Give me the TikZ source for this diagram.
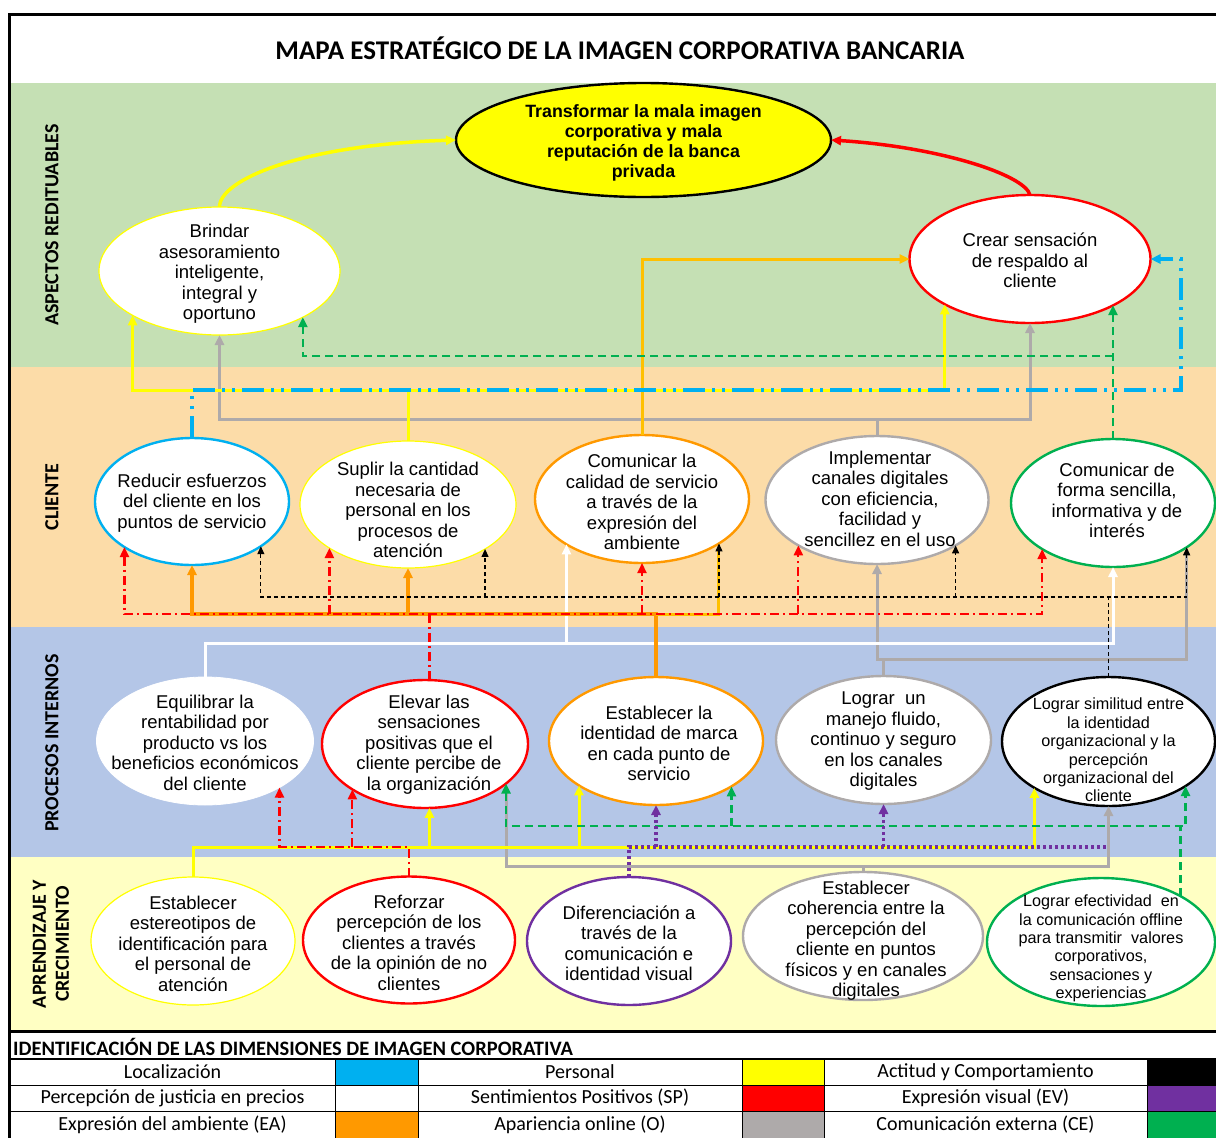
\documentclass[tikz,border=0pt]{standalone}
\usepackage{fontspec}
\usetikzlibrary{arrows.meta,shapes.geometric}
\newfontfamily\arialf{Liberation Sans}
\newfontfamily\calf{Carlito}

\definecolor{bandG}{RGB}{197,224,180}
\definecolor{bandO}{RGB}{252,220,168}
\definecolor{bandB}{RGB}{180,198,231}
\definecolor{bandY}{RGB}{255,255,195}
\definecolor{cBlue}{RGB}{0,176,240}
\definecolor{cYel}{RGB}{255,255,0}
\definecolor{cRed}{RGB}{255,0,0}
\definecolor{cOra}{RGB}{255,153,0}
\definecolor{cGold}{RGB}{255,192,0}
\definecolor{cGray}{RGB}{174,170,170}
\definecolor{cPur}{RGB}{112,48,160}
\definecolor{cGrn}{RGB}{0,176,80}

\tikzset{
  obj/.style={ellipse, fill=white, inner sep=0pt, outer sep=0pt, line width=2.4pt},
  txt/.style={font=\arialf\fontsize{18.5}{20.5}\selectfont, align=center, inner sep=0pt, yshift=-1.5pt},
  txts/.style={font=\arialf\fontsize{16.2}{18.4}\selectfont, align=center, inner sep=0pt, yshift=-1.5pt},
  band/.style={rotate=90, font=\calf\bfseries\fontsize{20}{23}\selectfont, align=center},
  leg/.style={font=\calf\fontsize{20}{22}\selectfont, inner sep=0pt},
  arw/.style={-{Triangle[length=10pt,width=9pt]}},
  arw2/.style={{Triangle[length=10pt,width=9pt]}-{Triangle[length=10pt,width=9pt]}},
  arwS/.style={{Triangle[length=10pt,width=9pt]}-},
  karw/.style={-{Triangle[length=8pt,width=7pt]}},
  karw2/.style={{Triangle[length=8pt,width=7pt]}-{Triangle[length=8pt,width=7pt]}},
  lnY/.style={draw=cYel, line width=3pt},
  lnGy/.style={draw=cGray, line width=3pt},
  lnO/.style={draw=cOra, line width=3.6pt},
  lnGd/.style={draw=cGold, line width=3pt},
  lnW/.style={draw=white, line width=3pt},
  lnR/.style={draw=cRed, line width=2.2pt, dash pattern=on 9pt off 4pt on 2pt off 4pt},
  lnB/.style={draw=cBlue, line width=3.2pt, dash pattern=on 22pt off 7pt on 3pt off 7pt on 3pt off 7pt},
  lnK/.style={draw=black, line width=1.2pt, dash pattern=on 4pt off 3pt},
  lnG/.style={draw=cGrn, line width=2.5pt, dash pattern=on 8pt off 5pt},
  lnP/.style={draw=cPur, line width=3.5pt, dash pattern=on 3pt off 3pt},
}

\begin{document}
\begin{tikzpicture}[x=1pt,y=-1pt]
\useasboundingbox (0,0) rectangle (1216,1138);
\fill[white] (0,0) rectangle (1216,1138);

% perspective bands
\fill[bandG] (11,83) rectangle (1216,367);
\fill[bandO] (11,367) rectangle (1216,627);
\fill[bandB] (11,627) rectangle (1216,857);
\fill[bandY] (11,857) rectangle (1216,1030);

% frame
\draw[line width=3pt] (9.5,1140) -- (9.5,14.5) -- (1220,14.5);
\draw[line width=3.5pt] (9.5,1031.5) -- (1220,1031.5);

% title and band labels
\node[font=\calf\bfseries\fontsize{27}{31}\selectfont] (title) at (620,48) {MAPA ESTRATÉGICO DE LA IMAGEN CORPORATIVA BANCARIA};
\node[band] (lab-ar) at (52,225) {ASPECTOS REDITUABLES};
\node[band] (lab-cl) at (52,497) {CLIENTE};
\node[band] (lab-pi) at (52,743) {PROCESOS INTERNOS};
\node[band] (lab-ac) at (51,944) {APRENDIZAJE Y\\CRECIMIENTO};

% objectives (outlines)
\node[obj, draw=black, fill=cYel, minimum width=375pt, minimum height=114pt] (goal) at (643.5,140) {};
\node[obj, draw=cYel, line width=1.2pt, minimum width=241pt, minimum height=128pt] (brindar) at (219.5,271) {};
\node[obj, draw=cRed, minimum width=241pt, minimum height=128pt] (crear) at (1030,259) {};

\node[obj, draw=cBlue, minimum width=194pt, minimum height=127pt] (reducir) at (192,501.5) {};
\node[obj, draw=cYel, line width=1.2pt, minimum width=216pt, minimum height=127pt] (suplir) at (408,504.5) {};
\node[obj, draw=cOra, minimum width=214pt, minimum height=128pt] (comcal) at (642,499) {};
\node[obj, draw=cGray, minimum width=223pt, minimum height=128pt] (implem) at (877,500) {};
\node[obj, draw=cGrn, minimum width=204pt, minimum height=128pt] (comforma) at (1113,503) {};

\node[obj, draw=white, line width=0.8pt, minimum width=217pt, minimum height=128pt] (equil) at (205,741) {};
\node[obj, draw=cRed, minimum width=206pt, minimum height=128pt] (elevar) at (425,744) {};
\node[obj, draw=cOra, minimum width=214pt, minimum height=128pt] (estid) at (656,741) {};
\node[obj, draw=cGray, minimum width=215pt, minimum height=128pt] (manejo) at (883.5,740) {};
\node[obj, draw=black, minimum width=213pt, minimum height=129pt] (simil) at (1108.5,741.5) {};

\node[obj, draw=cYel, line width=1.2pt, minimum width=204pt, minimum height=128pt] (estereo) at (193,941) {};
\node[obj, draw=cRed, minimum width=212pt, minimum height=127pt] (reforzar) at (409,940) {};
\node[obj, draw=cPur, minimum width=204pt, minimum height=128pt] (difer) at (629,941) {};
\node[obj, draw=cGray, minimum width=240pt, minimum height=128pt] (coher) at (863,936) {};
\node[obj, draw=cGrn, minimum width=228pt, minimum height=128pt] (efect) at (1101,942) {};

% bus levels
\coordinate (yA) at (0,390);
\coordinate (gA) at (0,419);
\coordinate (eA) at (0,356);
\coordinate (kB) at (0,597);
\coordinate (rB) at (0,614);
\coordinate (wB) at (0,643);
\coordinate (gB) at (0,659);
\coordinate (eC) at (0,826);
\coordinate (yC) at (0,847);
\coordinate (gC) at (0,866);
\coordinate (bX) at (1181,0);

% Apariencia online (grey)
\draw[lnGy] (implem.north) -- (implem.north |- gA);
\draw[lnGy, arw2] (brindar.south) -- (brindar.south |- gA) -- (crear.south |- gA) -- (crear.south);
\draw[lnGy] (manejo.north) -- (manejo.north |- gB);
\draw[lnGy, arwS, shorten >=7pt] (implem.south) -- (implem.south |- gB) -- (comforma.329 |- gB) -- (comforma.329);
\draw[lnGy] (coher.north) -- (coher.north |- gC);
\draw[lnGy, arw, shorten <=9pt] (elevar.334) -- (elevar.334 |- gC) -- (simil.south |- gC) -- (simil.south);

% Personal (yellow)
\draw[lnY] (suplir.north) -- (suplir.north |- yA);
\draw[lnY, arw2] (brindar.207) -- (brindar.207 |- yA) -- (crear.208 |- yA) -- (crear.208);
\draw[lnY, arw] (estereo.north) |- (simil.212 |- yC) -- (simil.212);
\draw[lnY, arw] (elevar.274 |- yC) -- (elevar.274);
\draw[lnY, arw] (estid.210 |- yC) -- (estid.210);

% Percepcion de justicia en precios (white)
\draw[lnW, -{Triangle[length=10pt,width=9pt,fill=white]}] (equil.north) |- (comforma.south |- wB) -- (comforma.south);
\draw[lnW, -{Triangle[length=10pt,width=9pt,fill=white]}] (comcal.211 |- wB) -- (comcal.211);

% Expresion del ambiente (orange)
\draw[lnO, arw] (estid.north) -- (estid.north |- rB) -- (reducir.south |- rB) -- (reducir.south);
\draw[lnO, arw] (suplir.south |- rB) -- (suplir.south);
\draw[lnGd, shorten >=7pt] (estid.north |- rB) -| (comcal.330);
\draw[lnGd, arw] (comcal.north) |- (crear.west);

% Comunicacion externa (green)
\draw[lnG, arw] (comforma.north) -- (comforma.north |- crear.331);
\draw[lnG, arw] (comforma.north |- eA) -- (brindar.331 |- eA) -- (brindar.331);
\draw[lnG] (efect.30) -- (efect.30 |- eC);
\draw[lnG, arw2] (elevar.334) -- (elevar.334 |- eC) -- (simil.330 |- eC) -- (simil.330);
\draw[lnG, arw] (estid.329 |- eC) -- (estid.329);

% Actitud y comportamiento (black)
\draw[lnK] (simil.north) -- (simil.north |- kB);
\draw[lnK, karw2] (reducir.327) -- (reducir.327 |- kB) -- (comforma.329 |- kB) -- (comforma.329);
\draw[lnK, karw] (suplir.330 |- kB) -- (suplir.330);
\draw[lnK, karw] (comcal.330 |- kB) -- (comcal.330);
\draw[lnK, karw] (implem.330 |- kB) -- (implem.330);

% Sentimientos positivos (red)
\draw[lnR] (elevar.86) -- (elevar.86 |- rB);
\draw[lnR, arw2] (reducir.214) -- (reducir.214 |- rB) -- (comforma.213 |- rB) -- (comforma.213);
\draw[lnR, arw] (suplir.209 |- rB) -- (suplir.209);
\draw[lnR, arw] (comcal.south |- rB) -- (comcal.south);
\draw[lnR, arw] (implem.210 |- rB) -- (implem.210);
\draw[lnR, arw] (reforzar.north) |- (equil.328 |- yC) -- (equil.328);
\draw[lnR, arw] (elevar.212 |- yC) -- (elevar.212);

% Localizacion (blue)
\draw[lnB, arw] (reducir.north) |- (bX |- yA) |- (crear.east);

% Expresion visual (purple)
\draw[lnP] (difer.north) |- (simil.south |- yC);
\draw[lnP, arw] (estid.south |- yC) -- (estid.south);
\draw[lnP, arw] (manejo.south |- yC) -- (manejo.south);

% links to the main objective
\draw[cYel, line width=3.5pt, arw] (brindar.north) .. controls +(0,-27) and +(-156,5) .. (goal.west);
\draw[cRed, line width=3.5pt, arw] (crear.north) .. controls +(-5,-20) and +(109,7) .. (goal.east);

% objective texts
\node[txt, font=\arialf\bfseries\fontsize{17.8}{20}\selectfont, yshift=-1pt] (goal-t) at (goal) {Transformar la mala imagen\\corporativa y mala\\reputación de la banca\\privada};
\node[txt, yshift=-1.5pt] (brindar-t) at (brindar) {Brindar\\asesoramiento\\inteligente,\\integral y\\oportuno};
\node[txt] (crear-t) at (crear) {Crear sensación\\de respaldo al\\cliente};
\node[txt] (reducir-t) at (reducir) {Reducir esfuerzos\\del cliente en los\\puntos de servicio};
\node[txt, yshift=-4pt] (suplir-t) at (suplir) {Suplir la cantidad\\necesaria de\\personal en los\\procesos de\\atención};
\node[txt, yshift=-1.5pt] (comcal-t) at (comcal) {Comunicar la\\calidad de servicio\\a través de la\\expresión del\\ambiente};
\node[txt, yshift=3pt, xshift=3pt] (implem-t) at (implem) {Implementar\\canales digitales\\con eficiencia,\\facilidad y\\sencillez en el uso};
\node[txt, yshift=4pt, xshift=4pt] (comforma-t) at (comforma) {Comunicar de\\forma sencilla,\\informativa y de\\interés};
\node[txt] (equil-t) at (equil) {Equilibrar la\\rentabilidad por\\producto vs los\\beneficios económicos\\del cliente};
\node[txt, xshift=4pt, yshift=1pt] (elevar-t) at (elevar) {Elevar las\\sensaciones\\positivas que el\\cliente percibe de\\la organización};
\node[txt, yshift=-1pt, xshift=3pt] (estid-t) at (estid) {Establecer la\\identidad de marca\\en cada punto de\\servicio};
\node[txt] (manejo-t) at (manejo) {Lograr~~un\\manejo fluido,\\continuo y seguro\\en los canales\\digitales};
\node[txts, yshift=-7pt] (simil-t) at (simil) {Lograr similitud entre\\la identidad\\organizacional y la\\percepción\\organizacional del\\cliente};
\node[txt, yshift=-1pt] (estereo-t) at (estereo) {Establecer\\estereotipos de\\identificación para\\el personal de\\atención};
\node[txt, yshift=-1pt] (reforzar-t) at (reforzar) {Reforzar\\percepción de los\\clientes a través\\de la opinión de no\\clientes};
\node[txt, yshift=-1pt] (difer-t) at (difer) {Diferenciación a\\través de la\\comunicación e\\identidad visual};
\node[txt, yshift=-3pt, xshift=3pt] (coher-t) at (coher) {Establecer\\coherencia entre la\\percepción del\\cliente en puntos\\físicos y en canales\\digitales};
\node[txts, yshift=-5pt] (efect-t) at (efect) {Lograr efectividad~~en\\la comunicación offline\\para transmitir~~valores\\corporativos,\\sensaciones y\\experiencias};

% legend
\node[font=\calf\bfseries\fontsize{20.5}{23}\selectfont, anchor=west, inner sep=0pt] (leg-h) at (13,1046.5) {IDENTIFICACIÓN DE LAS DIMENSIONES DE IMAGEN CORPORATIVA};
\fill[cBlue] (335,1059) rectangle (418,1085);
\fill[cYel] (742,1059) rectangle (824,1085);
\fill[black] (1147,1059) rectangle (1216,1085);
\fill[cRed] (742,1085) rectangle (824,1111);
\fill[cPur] (1147,1085) rectangle (1216,1111);
\fill[cOra] (335,1111) rectangle (418,1138);
\fill[cGray] (742,1111) rectangle (824,1138);
\fill[cGrn] (1147,1111) rectangle (1216,1138);
\draw[line width=1.4pt] (11,1059) -- (1216,1059);
\draw[line width=1pt] (11,1085) -- (1216,1085) (11,1111) -- (1216,1111);
\foreach \x in {335,418,742,824,1147} \draw[line width=1pt] (\x,1059) -- (\x,1138);
\node[leg] (lg-a1) at (172.5,1072) {Localización};
\node[leg] (lg-a2) at (580,1072) {Personal};
\node[leg] (lg-a3) at (985.5,1072) {Actitud y Comportamiento};
\node[leg] (lg-b1) at (172.5,1098) {Percepción de justicia en precios};
\node[leg] (lg-b2) at (580,1098) {Sentimientos Positivos (SP)};
\node[leg] (lg-b3) at (985.5,1098) {Expresión visual (EV)};
\node[leg] (lg-c1) at (172.5,1124.5) {Expresión del ambiente (EA)};
\node[leg] (lg-c2) at (580,1124.5) {Apariencia online (O)};
\node[leg] (lg-c3) at (985.5,1124.5) {Comunicación externa (CE)};
\end{tikzpicture}
\end{document}
